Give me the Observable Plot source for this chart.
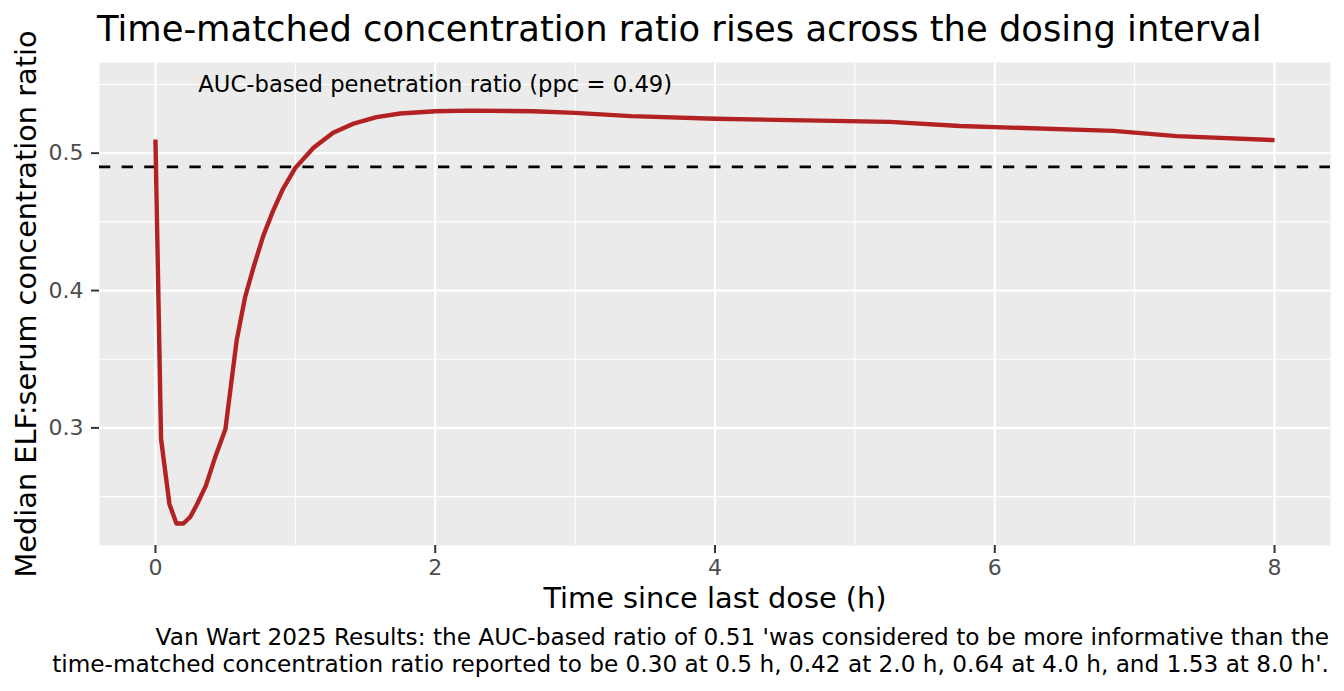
<!DOCTYPE html>
<html>
<head>
<meta charset="utf-8">
<script src="https://cdn.jsdelivr.net/npm/d3@7"></script>
<script src="https://cdn.jsdelivr.net/npm/@observablehq/plot@0.6"></script>
<style>
  html, body { margin: 0; padding: 0; background: #ffffff; }
  body { width: 1344px; height: 691px; position: relative; overflow: hidden; font-family: "DejaVu Sans", sans-serif; }
  #title { position: absolute; left: 97px; top: 11px; font-size: 35.3px; line-height: 35px; color: #000; white-space: nowrap; }
  #chart { position: absolute; left: 0; top: 52px; }
  .cap { position: absolute; right: 15px; font-size: 23.2px; line-height: 27px; height: 27px; text-align: right; color: #000; white-space: nowrap; }
  #cap1 { top: 622.5px; }
  #cap2 { top: 649.5px; }
</style>
</head>
<body>
<div id="title">Time-matched concentration ratio rises across the dosing interval</div>
<div id="chart"></div>
<div class="cap" id="cap1">Van Wart 2025 Results: the AUC-based ratio of 0.51 'was considered to be more informative than the</div>
<div class="cap" id="cap2">time-matched concentration ratio reported to be 0.30 at 0.5 h, 0.42 at 2.0 h, 0.64 at 4.0 h, and 1.53 at 8.0 h'.</div>
<script>
// Data
const timeH = [0, 0.04, 0.10, 0.15, 0.20, 0.25, 0.30, 0.36, 0.43, 0.50, 0.58, 0.64, 0.70, 0.77, 0.84, 0.91, 1.00, 1.13, 1.27, 1.41, 1.58, 1.75, 2.00, 2.25, 2.70, 3.00, 3.40, 4.00, 5.25, 5.75, 6.85, 7.30, 8.00];
const ratio = [0.510, 0.292, 0.2445, 0.2304, 0.2304, 0.2353, 0.2450, 0.2578, 0.2796, 0.299, 0.3633, 0.3948, 0.4166, 0.4396, 0.4578, 0.4736, 0.4893, 0.5039, 0.5148, 0.5213, 0.5262, 0.5289, 0.5305, 0.5310, 0.5305, 0.5293, 0.5270, 0.5250, 0.5228, 0.5198, 0.5162, 0.5124, 0.5095];
const aucRatio = 0.49;
const annotationText = ["AUC-based penetration ratio (ppc = 0.49)"];
const annotationX = [2];
const annotationY = [0.55];
const xMajor = [0, 2, 4, 6, 8];
const xMinor = [1, 3, 5, 7];
const yMajor = [0.3, 0.4, 0.5];
const yMinor = [0.25, 0.35, 0.45, 0.55];
const xLabel = "Time since last dose (h)";
const yLabel = "Median ELF:serum concentration ratio";

const series = timeH.map((t, i) => ({t, r: ratio[i]}));
const notes = annotationText.map((s, i) => ({s, x: annotationX[i], y: annotationY[i]}));

const plot = Plot.plot({
  width: 1344,
  height: 575,
  marginLeft: 99,
  marginRight: 14,
  marginTop: 10,
  marginBottom: 82,
  style: {fontFamily: "DejaVu Sans, sans-serif", background: "transparent", overflow: "visible"},
  x: {domain: [-0.4, 8.4]},
  y: {domain: [0.2144, 0.566]},
  marks: [
    Plot.frame({fill: "#EBEBEB", stroke: null}),
    Plot.gridX(xMinor, {stroke: "#ffffff", strokeOpacity: 1, strokeWidth: 1.1}),
    Plot.gridY(yMinor, {stroke: "#ffffff", strokeOpacity: 1, strokeWidth: 1.1}),
    Plot.gridX(xMajor, {stroke: "#ffffff", strokeOpacity: 1, strokeWidth: 2.2}),
    Plot.gridY(yMajor, {stroke: "#ffffff", strokeOpacity: 1, strokeWidth: 2.2}),
    Plot.ruleY([aucRatio], {stroke: "#000000", strokeWidth: 2.9, strokeDasharray: "11.3,11.3"}),
    Plot.line(series, {x: "t", y: "r", stroke: "#B22222", strokeWidth: 4.4, strokeLinecap: "butt", strokeLinejoin: "round"}),
    Plot.text(notes, {x: "x", y: "y", text: "s", fontSize: 22.7, fill: "#000000", textAnchor: "middle", lineAnchor: "middle"}),
    Plot.axisX(xMajor, {tickSize: 8, tickPadding: 6, stroke: "#333333", strokeWidth: 2, fill: "#4D4D4D", fontSize: 22, label: null, tickFormat: d => String(d)}),
    Plot.axisY(yMajor, {tickSize: 8, tickPadding: 8, stroke: "#333333", strokeWidth: 2, fill: "#4D4D4D", fontSize: 22, label: null, tickFormat: d => d.toFixed(1)}),
    Plot.axisX([], {tickSize: 0, fill: "#000000", fontSize: 28.8, label: xLabel, labelAnchor: "center", labelArrow: "none", labelOffset: 62}),
    Plot.axisY([], {tickSize: 0, fill: "#000000", fontSize: 28.8, label: yLabel, labelAnchor: "center", labelArrow: "none", labelOffset: 84})
  ]
});
document.getElementById("chart").appendChild(plot);
</script>
</body>
</html>
